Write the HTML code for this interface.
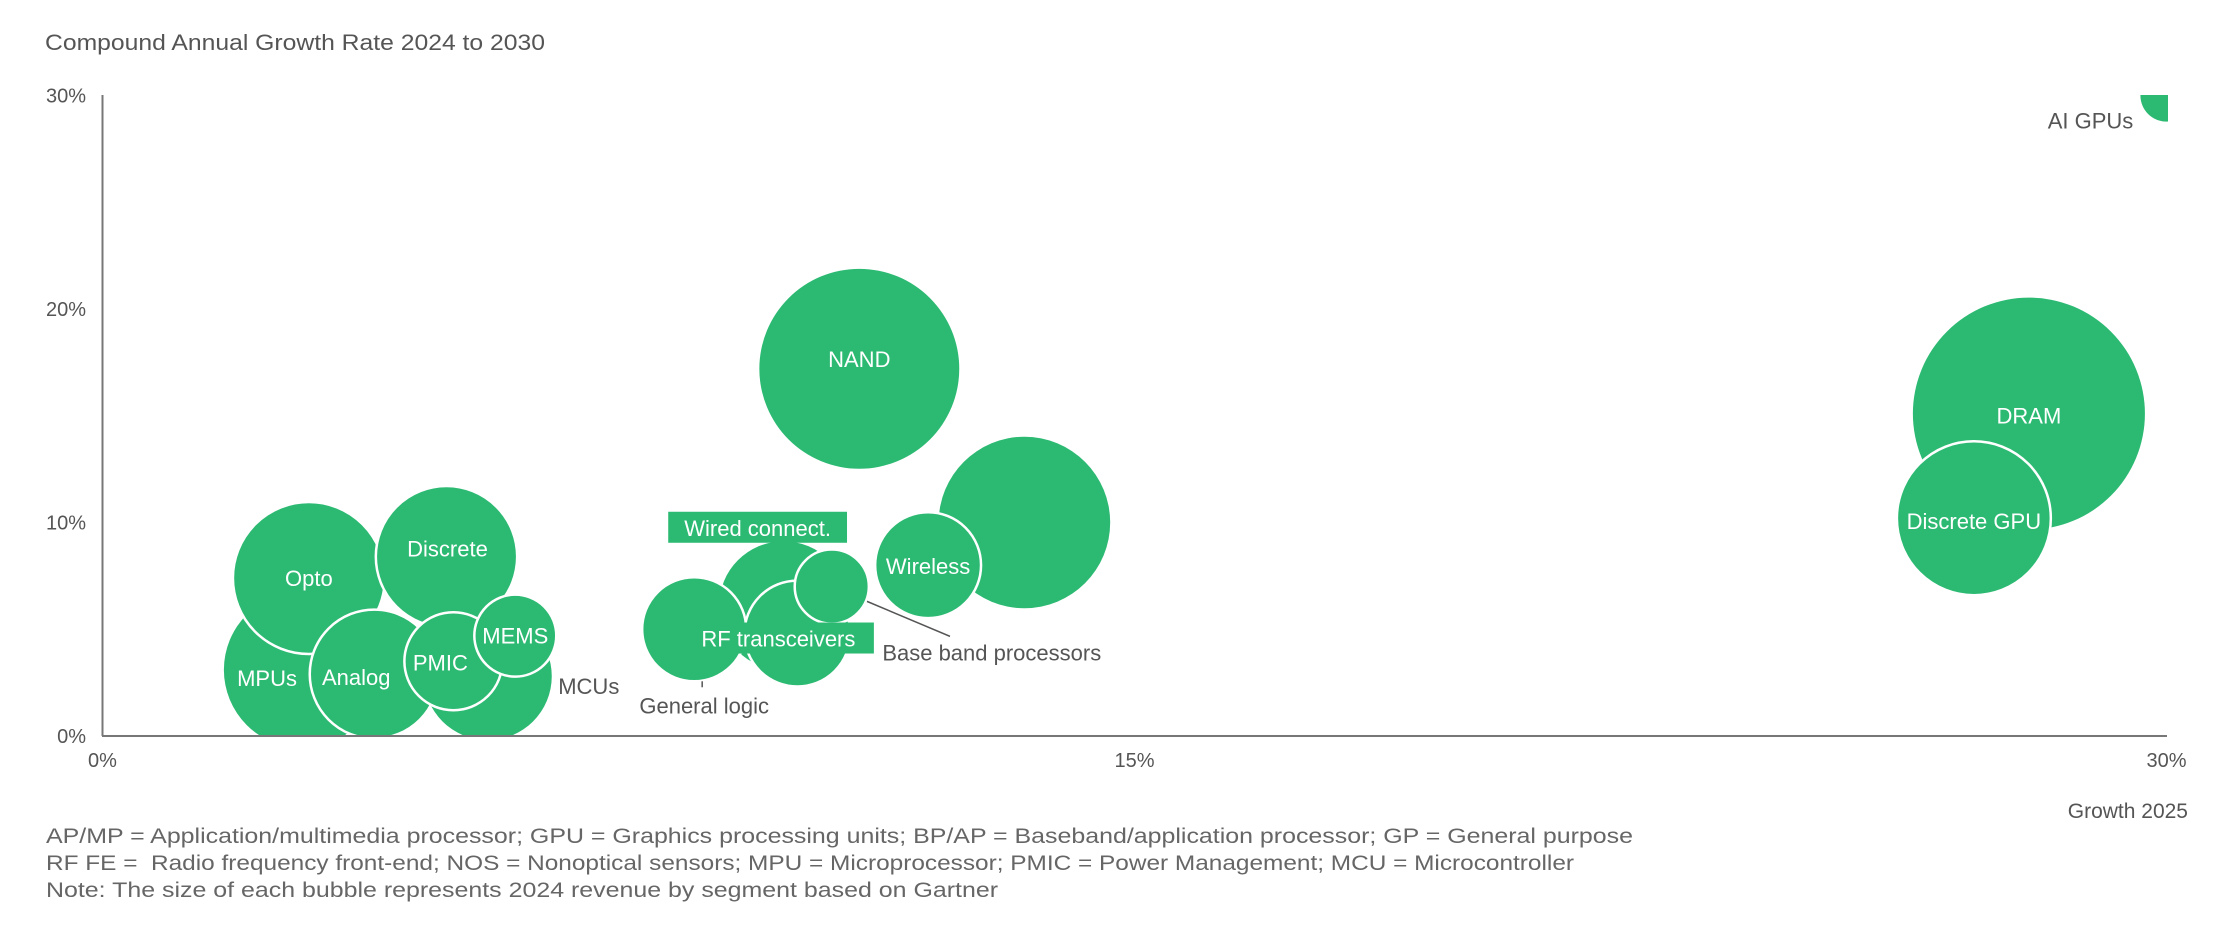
<!DOCTYPE html>
<html><head><meta charset="utf-8">
<style>
html,body{margin:0;padding:0;background:#fff;}
svg{display:block;font-family:"Liberation Sans",sans-serif;}
</style></head>
<body>
<svg id="chart" width="2232" height="927" viewBox="0 0 2232 927" xmlns="http://www.w3.org/2000/svg">
<defs><clipPath id="plotclip"><rect x="102" y="95" width="2066" height="641"/></clipPath></defs>
<text x="45" y="50" font-size="22" fill="#555" textLength="500" lengthAdjust="spacingAndGlyphs">Compound Annual Growth Rate 2024 to 2030</text>
<g id="yticks"></g><g id="xticks"></g>
<g id="bubbles" clip-path="url(#plotclip)"></g>
<g id="leaders"></g>
<g id="labels"></g>
<line x1="102.5" y1="95" x2="102.5" y2="736" stroke="#777" stroke-width="2"/>
<line x1="102" y1="736" x2="2167" y2="736" stroke="#777" stroke-width="2"/>
<text x="2188" y="818" font-size="21" fill="#555" text-anchor="end">Growth 2025</text>
<g font-size="21" fill="#666">
<text x="46" y="843" textLength="1587" lengthAdjust="spacingAndGlyphs">AP/MP = Application/multimedia processor; GPU = Graphics processing units; BP/AP = Baseband/application processor; GP = General purpose</text>
<text x="46" y="870" textLength="1528" lengthAdjust="spacingAndGlyphs" xml:space="preserve">RF FE =  Radio frequency front-end; NOS = Nonoptical sensors; MPU = Microprocessor; PMIC = Power Management; MCU = Microcontroller</text>
<text x="46" y="897" textLength="952" lengthAdjust="spacingAndGlyphs">Note: The size of each bubble represents 2024 revenue by segment based on Gartner</text>
</g>
</svg>
<script>
// ---- data ----
const segments = ["MPUs","Opto","Discrete","MCUs","Analog","PMIC","MEMS","AP/MP","Wireless","Wired connect.","General logic","RF transceivers","Base band  processors","NAND","DRAM","Discrete GPU","AI GPUs"];
const growth2025 = [2.9, 3.0, 5.0, 5.6, 3.95, 5.1, 6.0, 13.4, 12.0, 9.9, 8.6, 10.1, 10.6, 11.0, 28.0, 27.2, 30];
const cagr = [3.1, 7.4, 8.4, 2.8, 2.9, 3.5, 4.7, 10.0, 8.0, 6.1, 5.0, 4.8, 7.0, 17.2, 15.1, 10.2, 30];
const revenue = [44, 41.6, 36, 29.5, 30, 17.3, 12.1, 53, 20.2, 30, 19.5, 20.2, 9.9, 72, 97, 42.7, 4.9];
const xTicks = [0, 15, 30];
const yTicks = [0, 10, 20, 30];
// ---- layout (not data) ----
const stroked = [false,true,true,false,true,true,true,false,true,false,true,true,true,false,false,true,false];
// label style: [dx, dy, mode] mode: in / out / box / hide
const labelLayout = [[-35,8,"in"],[0,0,"in"],[1,-8,"in"],[101,10,"out"],[-18,3,"in"],[-13,1,"in"],[0,0,"in"],[0,0,"hide"],[0,1,"in"],[-26,-78,"box"],[10,76,"out"],[-19,5,"box"],[160,66,"out"],[0,-10,"in"],[0,2,"in"],[0,3,"in"],[-76,25,"out"]];

const X0=102.5, X30=2166.5, Y0=736, Y30=95.5;
const xs = v => X0 + (X30-X0)*v/30;
const ys = v => Y0 - (Y0-Y30)*v/30;
const rs = v => 11.78*Math.sqrt(v);
const NS="http://www.w3.org/2000/svg";
function mk(tag, attrs){const e=document.createElementNS(NS,tag);for(const k in attrs)e.setAttribute(k,attrs[k]);return e;}

const yt=document.getElementById('yticks');
yTicks.forEach(t=>{
  const e=mk('text',{x:86,y:ys(t)+7,'font-size':20,fill:'#555','text-anchor':'end'});
  
  
  e.textContent=t+'%';yt.appendChild(e);
});
const xt=document.getElementById('xticks');
xTicks.forEach(t=>{
  const e=mk('text',{x:xs(t),y:767,'font-size':20,fill:'#555','text-anchor':'middle'});
  
  
  e.textContent=t+'%';xt.appendChild(e);
});

const bg=document.getElementById('bubbles'), lg=document.getElementById('labels'), ld=document.getElementById('leaders');
segments.forEach((s,i)=>{
  const cx=xs(growth2025[i]), cy=ys(cagr[i]), r=rs(revenue[i]);
  const c=mk('circle',{cx:cx,cy:cy,r:r,fill:'#2cba73',stroke:stroked[i]?'#fff':'none','stroke-width':2.5});
  
  
  bg.appendChild(c);
  const [dx,dy,mode]=labelLayout[i];
  if(mode==='hide')return;
  const lx=cx+dx, ly=cy+dy;
  if(mode==='box'){
    const w=s.length*12.2+8;
    const b=mk('rect',{x:lx-w/2,y:ly-16,width:w,height:31,fill:'#2cba73'});
    
    
    lg.appendChild(b);
  }
  const out = mode==='out';
  if(out && (i===10||i===12)){
    const p = i===10 ? [cx+8,cy+r,cx+8,cy+r+6] : [cx+r*0.95,cy+r*0.4,cx+r*0.95+83,cy+r*0.4+35];
    const l=mk('line',{x1:p[0],y1:p[1],x2:p[2],y2:p[3],stroke:'#555','stroke-width':1.5});
    
    
    ld.appendChild(l);
  }
  const t=mk('text',{x:lx,y:ly+8,'font-size':22,fill:out?'#555':'#fff','text-anchor':'middle','xml:space':'preserve'});
  
  
  t.textContent=s;lg.appendChild(t);
});
</script>
</body></html>
